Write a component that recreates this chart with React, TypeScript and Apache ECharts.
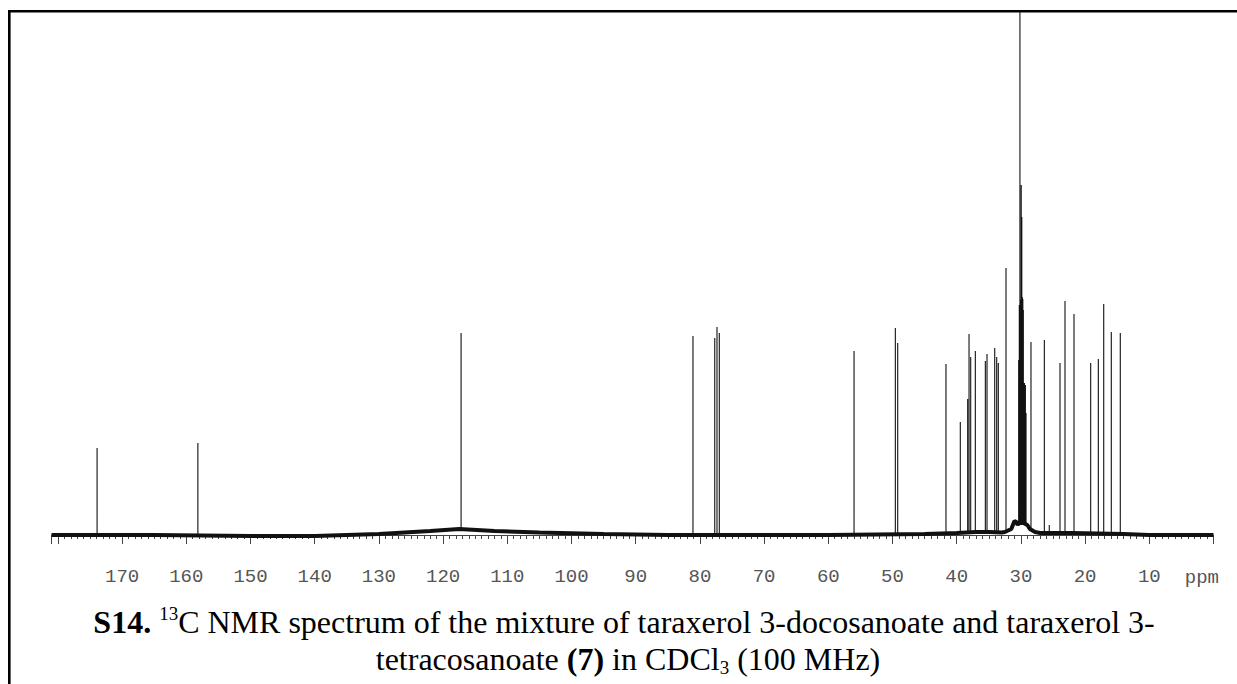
import React, { useEffect, useRef } from 'react';
import * as echarts from 'echarts';

// ---- data (ppm positions and heights) ----
const peakPpm = [
  173.9, 158.2, 117.2, 81.08, 77.69, 77.34, 76.98, 55.99, 49.56, 49.19,
  41.67, 39.44, 38.29, 38.08, 37.82, 37.1, 35.54, 35.28, 34.08, 33.77,
  33.52, 32.32, 30.35, 30.25, 30.15, 30.02, 29.95, 29.86, 29.78, 29.7,
  29.62, 29.45, 29.3, 29.2, 28.43, 26.35, 25.58, 23.91, 23.13, 21.73,
  19.13, 17.94, 17.1, 15.92, 14.52,
];
const peakHeight = [
  87, 92, 202, 199, 197, 208, 202, 184, 207, 192,
  171, 113, 136, 201, 178, 184, 174, 181, 187, 178,
  172, 267, 175, 230, 600, 235, 350, 318, 238, 236,
  225, 152, 150, 122, 193, 195, 10, 172, 234, 221,
  172, 176, 231, 203, 202,
];
const basePpm = [
  181, 175, 165, 150, 140, 130, 122, 117.5, 112, 105, 95, 85, 70, 60, 45,
  40, 37, 35, 33, 32.5, 31.5, 31.0, 30.7, 30.5, 30.3, 29.6, 29.0, 28.6,
  27.8, 27, 22, 18, 14, 10, 0,
];
const baseLevel = [
  0, 0, 0, -1, -1, 1, 4, 6, 4, 2.5, 1, 0, 0, 0, 1,
  2, 3, 3, 2.5, 3, 6, 14, 13, 10, 12, 12, 10, 6,
  3, 2, 2, 1.5, 1, 0, 0,
];
const xMin = 0;
const xMax = 181;
const xInterval = 10;
const yMin = -18;
const yMax = 523;
const unitLabel = 'ppm';
const captionLine1 = '{b|S14. }{sup|13}{n|C NMR spectrum of the mixture of taraxerol 3-docosanoate and taraxerol 3-}';
const captionLine2 = '{n|tetracosanoate }{b|(7)}{n| in CDCl}{sub|3}{n| (100 MHz)}';

function footAt(p: number): number {
  let best = 0;
  let bestD = Infinity;
  basePpm.forEach((b, i) => {
    const d = Math.abs(b - p);
    if (d < bestD) {
      bestD = d;
      best = baseLevel[i];
    }
  });
  return best;
}

export default function App() {
  const ref = useRef<HTMLDivElement>(null);
  useEffect(() => {
    if (!ref.current) return;
    const chart = echarts.init(ref.current, undefined, { renderer: 'svg' });
    const peakData: any[] = [];
    peakPpm.forEach((p, i) => {
      peakData.push([p, footAt(p)], [p, peakHeight[i]], [p, '-']);
    });
    const baseData = basePpm.map((p, i) => [p, baseLevel[i]]);
    const serif = '"Liberation Serif", "Times New Roman", serif';
    const rich = {
      n: { fontFamily: serif, fontSize: 32, lineHeight: 36, color: '#000', verticalAlign: 'middle' },
      b: { fontFamily: serif, fontSize: 32, fontWeight: 'bold', lineHeight: 36, color: '#000', verticalAlign: 'middle' },
      sup: { fontFamily: serif, fontSize: 19, lineHeight: 22, color: '#000', verticalAlign: 'top' },
      sub: { fontFamily: serif, fontSize: 19, lineHeight: 22, color: '#000', verticalAlign: 'bottom' },
    };
    chart.setOption({
      animation: false,
      backgroundColor: '#fff',
      grid: { left: 51.5, right: 23.5, top: 12, bottom: 131, containLabel: false, outerBoundsMode: 'none' },
      xAxis: {
        type: 'value',
        inverse: true,
        min: xMin,
        max: xMax,
        interval: xInterval,
        axisLine: { show: true, lineStyle: { color: '#444', width: 1 } },
        axisTick: { show: true, length: 9, lineStyle: { color: '#444', width: 1 } },
        minorTick: { show: true, splitNumber: 10, length: 4, lineStyle: { color: '#444', width: 1 } },
        splitLine: { show: false },
        minorSplitLine: { show: false },
        axisLabel: {
          margin: 14,
          fontFamily: '"Liberation Mono", "Courier New", monospace',
          fontSize: 19,
          color: '#555',
          showMaxLabel: false,
          showMinLabel: true,
          formatter: (v: number) => (v <= 0 || v >= 180 ? '' : String(v)),
        },
      },
      yAxis: { type: 'value', show: false, min: yMin, max: yMax, splitLine: { show: false } },
      series: [
        {
          type: 'line',
          data: peakData,
          showSymbol: false,
          symbol: 'none',
          connectNulls: false,
          clip: true,
          lineStyle: { color: '#111', width: 1.1 },
          z: 2,
        },
        {
          type: 'line',
          data: baseData,
          showSymbol: false,
          symbol: 'none',
          clip: true,
          lineStyle: { color: '#111', width: 4 },
          z: 3,
        },
      ],
      graphic: [
        {
          type: 'rect',
          shape: { x: 9.3, y: 11.3, width: 1300, height: 800 },
          style: { fill: 'none', stroke: '#000', lineWidth: 2.6 },
          z: 100,
        },
        {
          type: 'text',
          x: 1219,
          y: 568,
          style: {
            text: unitLabel,
            font: '19px "Liberation Mono", "Courier New", monospace',
            fill: '#555',
            align: 'right',
            verticalAlign: 'top',
          },
        },
        {
          type: 'text',
          x: 624,
          y: 604,
          style: { text: captionLine1, rich, align: 'center', verticalAlign: 'top' },
        },
        {
          type: 'text',
          x: 628,
          y: 641,
          style: { text: captionLine2, rich, align: 'center', verticalAlign: 'top' },
        },
      ],
    });
    return () => chart.dispose();
  }, []);
  return <div ref={ref} style={{ position: 'absolute', left: 0, top: 0, width: 1237, height: 684, background: '#fff' }} />;
}
